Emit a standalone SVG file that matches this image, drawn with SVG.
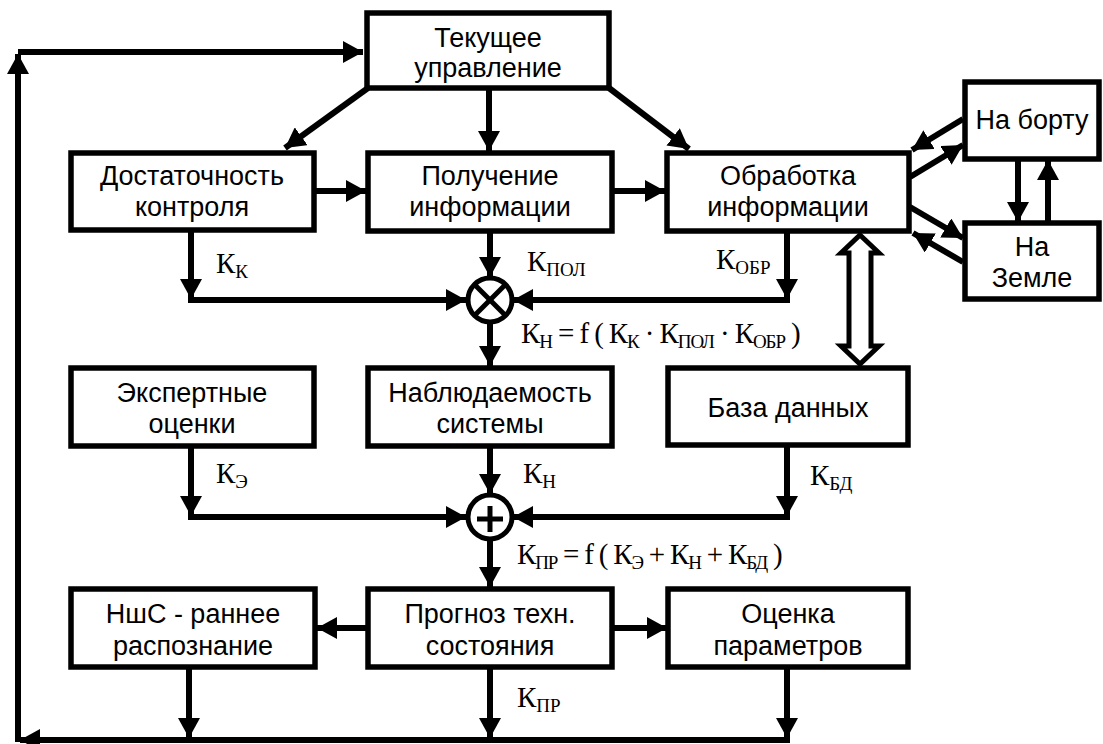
<svg xmlns="http://www.w3.org/2000/svg" width="1103" height="744" viewBox="0 0 1103 744">
<style>
.box{fill:#fff;stroke:#000;stroke-width:5.5}
.t{font-family:"Liberation Sans",Arial,sans-serif;font-size:27px;text-anchor:middle;fill:#000}
.k{font-family:"Liberation Serif","Times New Roman",serif;font-size:29px;fill:#000}
.s{font-size:19px}
.ln{fill:none;stroke:#000;stroke-width:6}
.sum{fill:#fff;stroke:#000;stroke-width:5}
</style>
<defs>
<marker id="ah" markerUnits="userSpaceOnUse" markerWidth="22" markerHeight="22" viewBox="0 0 22 22" refX="20" refY="11" orient="auto">
<path d="M0,0 L20,11 L0,22 Z" fill="#000"/>
</marker>
</defs>
<rect width="1103" height="744" fill="#fff"/>
<g id="connectors">
<line class="ln" x1="18" y1="52" x2="363" y2="52" marker-end="url(#ah)"/>
<line class="ln" x1="18" y1="742" x2="18" y2="54" marker-end="url(#ah)"/>
<line class="ln" x1="790" y1="740" x2="20" y2="740" marker-end="url(#ah)"/>
<line class="ln" x1="368" y1="88" x2="285" y2="148" marker-end="url(#ah)"/>
<line class="ln" x1="489" y1="89" x2="489" y2="151" marker-end="url(#ah)"/>
<line class="ln" x1="609" y1="88" x2="689" y2="149" marker-end="url(#ah)"/>
<line class="ln" x1="315" y1="191" x2="366" y2="191" marker-end="url(#ah)"/>
<line class="ln" x1="613" y1="191" x2="665" y2="191" marker-end="url(#ah)"/>
<line class="ln" x1="963" y1="119" x2="912" y2="150" marker-end="url(#ah)"/>
<line class="ln" x1="910" y1="177" x2="963" y2="145" marker-end="url(#ah)"/>
<line class="ln" x1="910" y1="207" x2="963" y2="238" marker-end="url(#ah)"/>
<line class="ln" x1="963" y1="262" x2="913" y2="233" marker-end="url(#ah)"/>
<line class="ln" x1="1018" y1="160" x2="1018" y2="222" marker-end="url(#ah)"/>
<line class="ln" x1="1048" y1="222" x2="1048" y2="160" marker-end="url(#ah)"/>
<polygon points="860,235 879,253 871,253 871,346 879,346 860,364 841,346 849,346 849,253 841,253" fill="#fff" stroke="#000" stroke-width="5" stroke-linejoin="miter"/>
<line class="ln" x1="191" y1="231" x2="191" y2="299" marker-end="url(#ah)"/>
<line class="ln" x1="188" y1="300" x2="466" y2="300" marker-end="url(#ah)"/>
<line class="ln" x1="490" y1="232" x2="490" y2="277" marker-end="url(#ah)"/>
<line class="ln" x1="787" y1="232" x2="787" y2="299" marker-end="url(#ah)"/>
<line class="ln" x1="790" y1="300" x2="513" y2="300" marker-end="url(#ah)"/>
<line class="ln" x1="490" y1="322" x2="490" y2="366" marker-end="url(#ah)"/>
<line class="ln" x1="191" y1="447" x2="191" y2="516" marker-end="url(#ah)"/>
<line class="ln" x1="188" y1="517" x2="466" y2="517" marker-end="url(#ah)"/>
<line class="ln" x1="490" y1="447" x2="490" y2="494" marker-end="url(#ah)"/>
<line class="ln" x1="787" y1="446" x2="787" y2="516" marker-end="url(#ah)"/>
<line class="ln" x1="790" y1="517" x2="513" y2="517" marker-end="url(#ah)"/>
<line class="ln" x1="490" y1="540" x2="490" y2="587" marker-end="url(#ah)"/>
<line class="ln" x1="368" y1="628" x2="317" y2="628" marker-end="url(#ah)"/>
<line class="ln" x1="613" y1="628" x2="667" y2="628" marker-end="url(#ah)"/>
<line class="ln" x1="189" y1="668" x2="189" y2="738" marker-end="url(#ah)"/>
<line class="ln" x1="490" y1="668" x2="490" y2="738" marker-end="url(#ah)"/>
<line class="ln" x1="787" y1="668" x2="787" y2="738" marker-end="url(#ah)"/>
</g>
<g id="mult">
<circle class="sum" cx="490" cy="300" r="22"/>
<line x1="474.5" y1="284.5" x2="505.5" y2="315.5" stroke="#000" stroke-width="5"/>
<line x1="505.5" y1="284.5" x2="474.5" y2="315.5" stroke="#000" stroke-width="5"/>
</g>
<g id="plus">
<circle class="sum" cx="490" cy="517" r="22"/>
<line x1="477" y1="519" x2="503" y2="519" stroke="#000" stroke-width="5"/>
<line x1="490" y1="506" x2="490" y2="532" stroke="#000" stroke-width="5"/>
</g>
<g id="n-tek"><rect class="box" x="367" y="13" width="242" height="75"/><text class="t" x="488" y="47">Текущее</text><text class="t" x="488" y="77">управление</text></g>
<g id="n-dost"><rect class="box" x="71" y="153" width="243" height="77"/><text class="t" x="192" y="185">Достаточность</text><text class="t" x="192" y="216">контроля</text></g>
<g id="n-pol"><rect class="box" x="368" y="153" width="244" height="78"/><text class="t" x="490" y="185">Получение</text><text class="t" x="490" y="216">информации</text></g>
<g id="n-obr"><rect class="box" x="667" y="153" width="242" height="78"/><text class="t" x="788" y="185">Обработка</text><text class="t" x="788" y="216">информации</text></g>
<g id="n-bort"><rect class="box" x="965" y="82" width="134" height="77"/><text class="t" x="1032" y="129">На борту</text></g>
<g id="n-zem"><rect class="box" x="965" y="223" width="134" height="76"/><text class="t" x="1032" y="256">На</text><text class="t" x="1032" y="287">Земле</text></g>
<g id="n-exp"><rect class="box" x="71" y="368" width="243" height="78"/><text class="t" x="192" y="402">Экспертные</text><text class="t" x="192" y="433">оценки</text></g>
<g id="n-nab"><rect class="box" x="368" y="368" width="244" height="78"/><text class="t" x="490" y="402">Наблюдаемость</text><text class="t" x="490" y="433">системы</text></g>
<g id="n-bd"><rect class="box" x="668" y="368" width="240" height="77"/><text class="t" x="788" y="417">База данных</text></g>
<g id="n-nshs"><rect class="box" x="71" y="589" width="244" height="78"/><text class="t" x="193" y="623">НшС - раннее</text><text class="t" x="193" y="655">распознание</text></g>
<g id="n-prog"><rect class="box" x="368" y="589" width="244" height="78"/><text class="t" x="490" y="623">Прогноз техн.</text><text class="t" x="490" y="655">состояния</text></g>
<g id="n-ocen"><rect class="box" x="668" y="589" width="240" height="78"/><text class="t" x="788" y="623">Оценка</text><text class="t" x="788" y="655">параметров</text></g>
<g id="labels">
<text class="k" x="216" y="273">К<tspan class="s" dy="5">К</tspan></text>
<text class="k" x="527" y="271">К<tspan class="s" dy="5">ПОЛ</tspan></text>
<text class="k" x="716" y="269">К<tspan class="s" dy="5">ОБР</tspan></text>
<text class="k" x="521" y="343" letter-spacing="-1.1">К<tspan class="s" dy="5">Н</tspan><tspan dy="-5"> = f ( К</tspan><tspan class="s" dy="5">К</tspan><tspan dy="-5"> · К</tspan><tspan class="s" dy="5">ПОЛ</tspan><tspan dy="-5"> · К</tspan><tspan class="s" dy="5">ОБР</tspan><tspan dy="-5"> )</tspan></text>
<text class="k" x="216" y="483">К<tspan class="s" dy="5">Э</tspan></text>
<text class="k" x="523" y="483">К<tspan class="s" dy="5">Н</tspan></text>
<text class="k" x="810" y="485">К<tspan class="s" dy="5">БД</tspan></text>
<text class="k" x="517" y="564" letter-spacing="-1.2">К<tspan class="s" dy="5">ПР</tspan><tspan dy="-5"> = f ( К</tspan><tspan class="s" dy="5">Э</tspan><tspan dy="-5"> + К</tspan><tspan class="s" dy="5">Н</tspan><tspan dy="-5"> + К</tspan><tspan class="s" dy="5">БД</tspan><tspan dy="-5"> )</tspan></text>
<text class="k" x="517" y="707">К<tspan class="s" dy="5">ПР</tspan></text>
</g>
</svg>
